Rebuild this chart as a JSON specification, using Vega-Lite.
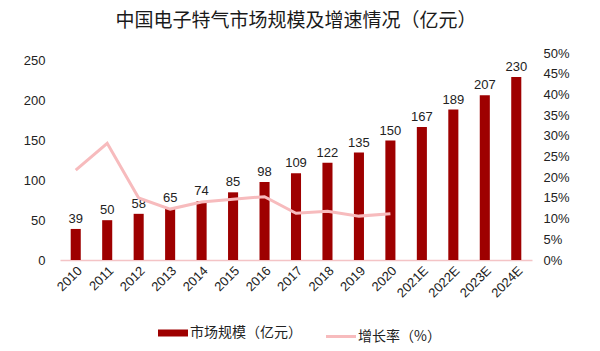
{
  "$schema": "https://vega.github.io/schema/vega-lite/v6.json",
  "autosize": {"type": "none"},
  "width": 472,
  "height": 207,
  "padding": {"left": 60, "top": 53, "right": 68, "bottom": 91},
  "background": "white",
  "title": {
    "text": "中国电子特气市场规模及增速情况（亿元）",
    "font": "Noto Sans CJK SC",
    "fontSize": 19,
    "fontWeight": "normal",
    "color": "#1a1a1a",
    "anchor": "middle",
    "offset": 16
  },
  "config": {
    "font": "Liberation Sans",
    "view": {"stroke": null},
    "axis": {"labelFont": "Liberation Sans", "labelFontSize": 13, "labelColor": "#222222", "grid": false, "ticks": false, "title": null},
    "legend": {"labelFont": "Noto Sans CJK SC", "labelFontSize": 14, "labelColor": "#222222"}
  },
  "data": {
    "values": [
      {"year": "2010", "value": 39, "growth": 0.217},
      {"year": "2011", "value": 50, "growth": 0.282},
      {"year": "2012", "value": 58, "growth": 0.15},
      {"year": "2013", "value": 65, "growth": 0.123},
      {"year": "2014", "value": 74, "growth": 0.14},
      {"year": "2015", "value": 85, "growth": 0.147},
      {"year": "2016", "value": 98, "growth": 0.153},
      {"year": "2017", "value": 109, "growth": 0.113},
      {"year": "2018", "value": 122, "growth": 0.118},
      {"year": "2019", "value": 135, "growth": 0.106},
      {"year": "2020", "value": 150, "growth": 0.112},
      {"year": "2021E", "value": 167, "growth": null},
      {"year": "2022E", "value": 189, "growth": null},
      {"year": "2023E", "value": 207, "growth": null},
      {"year": "2024E", "value": 230, "growth": null}
    ]
  },
  "encoding": {
    "x": {
      "field": "year",
      "type": "ordinal",
      "sort": null,
      "scale": {"paddingInner": 0.68, "paddingOuter": 0.34},
      "axis": {"labelAngle": -45, "domainColor": "#F4C4C6", "domainWidth": 1.5, "labelPadding": 4}
    }
  },
  "layer": [
    {
      "layer": [
        {
          "mark": {"type": "bar", "color": "#9E0000"},
          "encoding": {
            "y": {"field": "value", "type": "quantitative", "scale": {"domain": [0, 250]}, "axis": {"values": [0, 50, 100, 150, 200, 250], "domain": false, "labelPadding": 15}},
            "color": {"datum": "市场规模（亿元）", "type": "nominal", "scale": {"domain": ["市场规模（亿元）", "增长率（%）"], "range": ["#9E0000", "#F7BBBD"]},
              "legend": {"orient": "none", "legendX": 106, "legendY": 273, "direction": "horizontal", "title": null, "symbolType": "stroke", "symbolSize": 900, "columnPadding": 18, "labelOffset": 10,
                "encode": {"symbols": {"update": {"strokeWidth": {"signal": "datum.value === '增长率（%）' ? 3 : 7"}}}}}}
          }
        },
        {
          "mark": {"type": "text", "dy": -10, "fontSize": 13, "color": "#222222", "font": "Liberation Sans"},
          "encoding": {
            "y": {"field": "value", "type": "quantitative"},
            "text": {"field": "value", "type": "quantitative"}
          }
        }
      ]
    },
    {
      "mark": {"type": "line", "interpolate": "linear", "strokeWidth": 3},
      "transform": [{"filter": "datum.growth != null"}],
      "encoding": {
        "y": {"field": "growth", "type": "quantitative", "scale": {"domain": [0, 0.5]}, "axis": {"orient": "right", "format": ".0%", "values": [0, 0.05, 0.1, 0.15, 0.2, 0.25, 0.3, 0.35, 0.4, 0.45, 0.5], "domain": false, "labelPadding": 11}},
        "color": {"datum": "增长率（%）", "type": "nominal"}
      }
    }
  ],
  "resolve": {"scale": {"y": "independent"}}
}
